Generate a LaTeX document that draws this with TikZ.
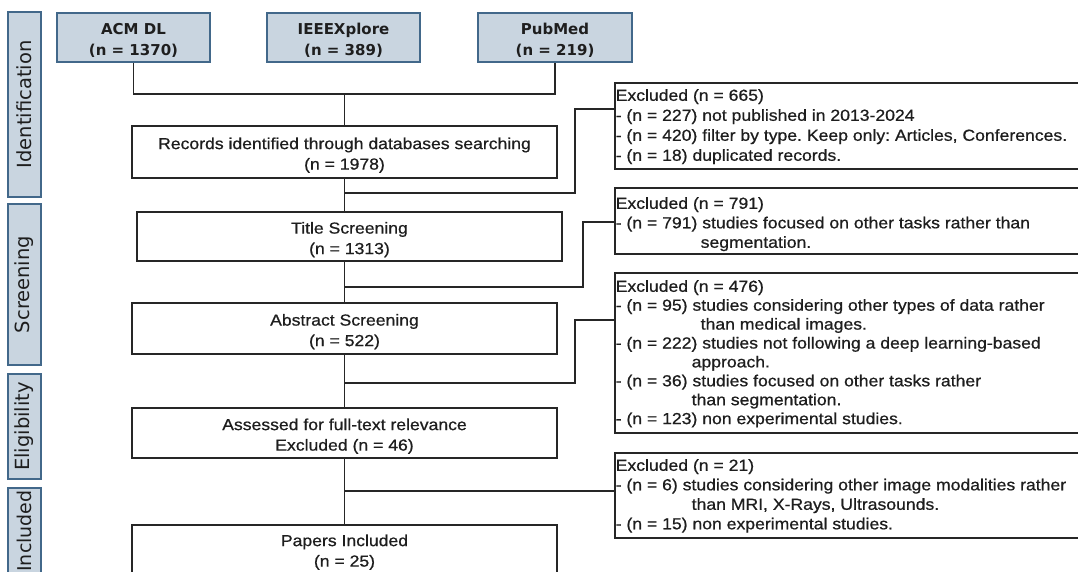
\documentclass[tikz,border=0pt]{standalone}
\usepackage{fontspec}
\setmainfont{Liberation Sans}[FakeStretch=1.1,FakeBold=0.7]
\newfontfamily\vfont{DejaVu Sans}
\definecolor{barfill}{RGB}{201,213,224}
\definecolor{barline}{RGB}{66,104,138}
\definecolor{txt}{RGB}{30,30,30}
\newcommand\fstr[1]{\rule{0pt}{#1pt}}
\frenchspacing
\begin{document}
\begin{tikzpicture}[x=1pt,y=-1pt,
  sidebar/.style={draw=barline, fill=barfill, line width=2pt, minimum height=33pt, inner sep=0pt, rotate=90, font=\vfont\fontsize{19.5}{21}\selectfont, text=txt},
  srcbox/.style={draw=barline, fill=barfill, line width=2pt, minimum width=153pt, minimum height=49pt, inner sep=0pt, align=center, font=\vfont\bfseries\fontsize{15}{20.5}\selectfont, text=txt},
  mainbox/.style={draw=black!85, line width=2pt, fill=white, minimum width=425pt, inner sep=0pt, align=center, font=\fontsize{16}{20.5}\selectfont, text=txt},
  exbox/.style={draw=black!85, line width=2pt, fill=white, minimum width=480pt, inner sep=0pt, anchor=north west},
  extext/.style={anchor=north west, inner sep=0pt, align=left, text=txt},
  conn/.style={line width=1.8pt, draw=black!85}
]
\useasboundingbox (0,0) rectangle (1078,571);
\clip (0,0) rectangle (1078,571);

% phase bars
\node[sidebar, minimum width=185pt] (sid) at (24.5,104.5) {Identification};
\node[sidebar, minimum width=161pt] (sscr) at (24.5,284.5) {Screening};
\node[sidebar, minimum width=105pt] (selig) at (24.5,426.5) {Eligibility};
\node[sidebar, minimum width=86pt, font=\vfont\fontsize{19}{21}\selectfont] (sinc) at (24.5,531) {Included};

% sources
\node[srcbox] (acm) at (133.5,37.5) {\fstr{17}ACM DL\\(n = 1370)};
\node[srcbox] (ieee) at (343.5,37.5) {\fstr{17}IEEEXplore\\(n = 389)};
\node[srcbox, minimum width=154pt] (pub) at (555,37.5) {\fstr{17}PubMed\\(n = 219)};

% main flow
\node[mainbox, minimum height=52pt] (rec) at (344.5,152) {\fstr{18}Records identified through databases searching\\(n = 1978)};
\node[mainbox, minimum height=49pt] (tit) at (349.5,236.5) {\fstr{18}Title Screening\\(n = 1313)};
\node[mainbox, minimum height=51pt] (abs) at (344.5,328.5) {\fstr{18}Abstract Screening\\(n = 522)};
\node[mainbox, minimum height=50pt] (ass) at (344.5,433) {\fstr{18}Assessed for full-text relevance\\Excluded (n = 46)};
\node[mainbox, minimum height=48pt] (pap) at (344.5,549) {\fstr{18}Papers Included\\(n = 25)};

% exclusion boxes
\node[exbox, minimum height=86pt] (ex1) at (614,82) {};
\node[exbox, minimum height=66pt] (ex2) at (614,187) {};
\node[exbox, minimum height=160pt] (ex3) at (614,272) {};
\node[exbox, minimum height=85pt] (ex4) at (614,452) {};

\node[extext, font=\fontsize{16}{20}\selectfont] (ex1t) at (615.5,89) {Excluded (n = 665)\\- (n = 227) not published in 2013-2024\\- (n = 420) filter by type. Keep only: Articles, Conferences.\\- (n = 18) duplicated records.};
\node[extext, font=\fontsize{16}{19.5}\selectfont] (ex2t) at (615.5,197) {Excluded (n = 791)\\- (n = 791) studies focused on other tasks rather than\\\hspace*{85pt}segmentation.};
\node[extext, font=\fontsize{16}{18.9}\selectfont] (ex3t) at (615.5,280) {Excluded (n = 476)\\- (n = 95) studies considering other types of data rather\\\hspace*{85pt}than medical images.\\- (n = 222) studies not following a deep learning-based\\\hspace*{76pt}approach.\\- (n = 36) studies focused on other tasks rather\\\hspace*{76pt}than segmentation.\\- (n = 123) non experimental studies.};
\node[extext, font=\fontsize{16}{19.5}\selectfont] (ex4t) at (615.5,459) {Excluded (n = 21)\\- (n = 6) studies considering other image modalities rather\\\hspace*{76pt}than MRI, X-Rays, Ultrasounds.\\- (n = 15) non experimental studies.};

% connectors
\coordinate (j1) at (344.5,94);
\draw[conn] (acm.south) |- (j1) -| (pub.south);
\draw[conn] (j1) -- (rec.north);
\draw[conn] (rec.south) -- (rec.south |- tit.north);
\draw[conn] (rec.south |- tit.south) -- (abs.north);
\draw[conn] (abs.south) -- (ass.north);
\draw[conn] (ass.south) -- (pap.north);

\coordinate (b1) at (344.5,193); \coordinate (e1) at (614,109);
\coordinate (b2) at (344.5,287); \coordinate (e2) at (614,222);
\coordinate (b3) at (344.5,383); \coordinate (e3) at (614,320);
\coordinate (b4) at (344.5,491); \coordinate (e4) at (614,491);
\draw[conn] (b1) -- (575,193) |- (e1);
\draw[conn] (b2) -- (583,287) |- (e2);
\draw[conn] (b3) -- (575,383) |- (e3);
\draw[conn] (b4) -- (e4);
\end{tikzpicture}
\end{document}
